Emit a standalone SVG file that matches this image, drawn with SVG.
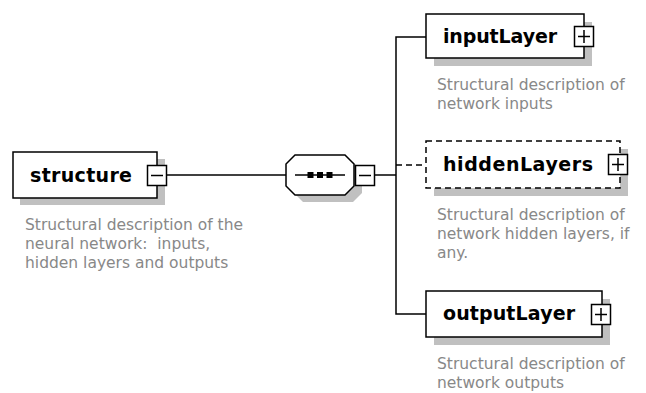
<svg xmlns="http://www.w3.org/2000/svg" width="646" height="393" viewBox="0 0 646 393">
<defs>
<style>
.box{fill:#fff;stroke:#000;stroke-width:1.5}
.dash{fill:#fff;stroke:#000;stroke-width:1.5;stroke-dasharray:6 4}
.shadow{fill:#c0c0c0;stroke:none}
.icon{fill:#fff;stroke:#000;stroke-width:1.5}
.sign{stroke:#000;stroke-width:1.5;fill:none}
.line{stroke:#000;stroke-width:1.5;fill:none}
.dline{stroke:#000;stroke-width:1.5;fill:none;stroke-dasharray:6 4}
.label{font-family:"DejaVu Sans","Liberation Sans",sans-serif;font-weight:bold;font-size:19px;fill:#000}
.desc{font-family:"DejaVu Sans","Liberation Sans",sans-serif;font-size:15.5px;fill:#888;white-space:pre}
</style>
</defs>
<rect width="646" height="393" fill="#fff"/>
<g id="connectors">
<line class="line" x1="167" y1="175" x2="286" y2="175"/>
<line class="line" x1="375" y1="175" x2="396" y2="175"/>
<polyline class="line" points="426,37 396,37 396,314 426,314"/>
<line class="dline" x1="396" y1="165" x2="426" y2="165"/>
</g>
<g id="structure">
<rect class="shadow" x="20" y="159" width="145" height="46"/>
<rect class="box" x="13" y="152" width="144" height="46"/>
<text class="label" x="30" y="182" textLength="102">structure</text>
<rect class="icon" x="147.5" y="165.5" width="19" height="20"/>
<line class="sign" x1="151" y1="175.5" x2="163" y2="175.5"/>
<text class="desc" x="25" y="230">Structural description of the</text>
<text class="desc" x="25" y="249">neural network:  inputs,</text>
<text class="desc" x="25" y="268">hidden layers and outputs</text>
</g>
<g id="sequence">
<polygon class="shadow" points="303,162 353,162 362,171 362,193 353,202 303,202 294,193 294,171"/>
<polygon class="box" points="295,155 345,155 354,164 354,186 345,195 295,195 286,186 286,164"/>
<line class="line" x1="295" y1="175" x2="345" y2="175"/>
<rect x="307.5" y="172" width="6" height="6" fill="#000"/>
<rect x="317" y="172" width="6" height="6" fill="#000"/>
<rect x="326.5" y="172" width="6" height="6" fill="#000"/>
<rect class="icon" x="355.5" y="165.5" width="19" height="20"/>
<line class="sign" x1="359" y1="175.5" x2="371" y2="175.5"/>
</g>
<g id="inputLayer">
<rect class="shadow" x="434" y="22" width="158" height="44"/>
<rect class="box" x="426" y="14" width="158" height="44"/>
<text class="label" x="443" y="43" textLength="114">inputLayer</text>
<rect class="icon" x="574.5" y="26.5" width="19" height="20"/>
<line class="sign" x1="578" y1="36.5" x2="590" y2="36.5"/>
<line class="sign" x1="584" y1="30" x2="584" y2="43"/>
<text class="desc" x="437" y="90">Structural description of</text>
<text class="desc" x="437" y="109">network inputs</text>
</g>
<g id="hiddenLayers">
<rect class="shadow" x="434" y="149" width="194" height="47"/>
<rect class="dash" x="426" y="141" width="194" height="47"/>
<text class="label" x="443" y="171" textLength="150">hiddenLayers</text>
<rect class="icon" x="608.5" y="154.5" width="19" height="20"/>
<line class="sign" x1="612" y1="164.5" x2="624" y2="164.5"/>
<line class="sign" x1="618" y1="158" x2="618" y2="171"/>
<text class="desc" x="437" y="220">Structural description of</text>
<text class="desc" x="437" y="239">network hidden layers, if</text>
<text class="desc" x="437" y="258">any.</text>
</g>
<g id="outputLayer">
<rect class="shadow" x="434" y="299" width="176" height="46"/>
<rect class="box" x="426" y="291" width="176" height="46"/>
<text class="label" x="443" y="320" textLength="132">outputLayer</text>
<rect class="icon" x="591.5" y="304.5" width="19" height="20"/>
<line class="sign" x1="595" y1="314.5" x2="607" y2="314.5"/>
<line class="sign" x1="601" y1="308" x2="601" y2="321"/>
<text class="desc" x="437" y="369">Structural description of</text>
<text class="desc" x="437" y="388">network outputs</text>
</g>
</svg>
